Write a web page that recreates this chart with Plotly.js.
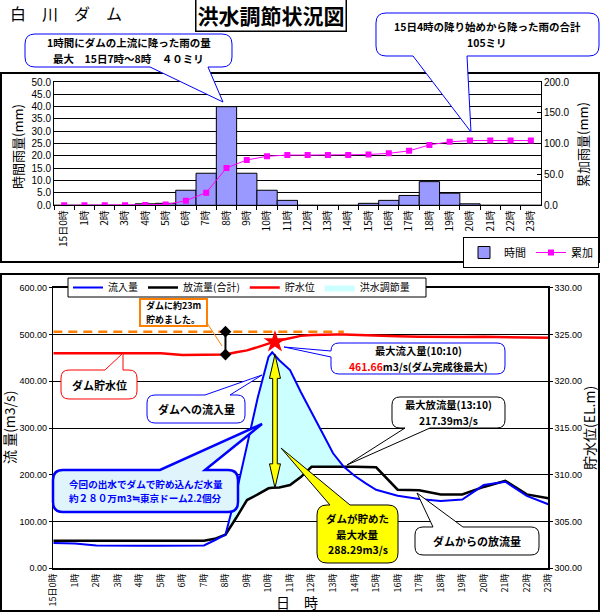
<!DOCTYPE html>
<html>
<head>
<meta charset="utf-8">
<script src="https://cdn.plot.ly/plotly-3.0.1.min.js"></script>
<style>html,body{margin:0;padding:0;background:#fff;}#chart{width:602px;height:612px;}</style>
</head>
<body>
<div id="chart"></div>
<script>
// ---------- data ----------
const hourLabels = ['15日0時','1時','2時','3時','4時','5時','6時','7時','8時','9時','10時','11時',
  '12時','13時','14時','15時','16時','17時','18時','19時','20時','21時','22時','23時'];
const rainHourly = [0,0,0,0,0.6,0.8,6.1,13,40,13,6.1,2,0,0,0,0.8,2,4,9.6,4.9,0.6,0,0,0];
const rainCumulative = [0,0,0,0,0.5,1.2,7.5,20.5,60.5,73.5,79.5,81.5,81.5,81.5,81.5,82.3,84.3,88.3,98,103,105,105,105,105];

const timeH = [0,1,2,3,4,5,6,7,7.5,8,8.5,9,9.5,10,10.17,10.5,11,11.5,12,12.5,13,13.17,13.5,14,14.5,15,16,17,18,19,20,21,22,23];
const inflow = [54,53,49,48,48,48,48,49,60,72,160,265,365,452,461.66,445,424,377,332,290,246,236,217,198,182,168,155,148,144,147,178,185,155,137];
const outflow = [59,59,59,59,59,59,59,59,63,72,108,146,158,171,172,173,178,195,217,217.39,217.39,217.39,217,217,216,216,168,167,158,158,174,187,158,150];
const waterLevel = [323.0,323.0,323.0,323.0,323.0,323.0,322.8,322.8,322.8,322.85,323.1,323.3,323.65,324.05,324.15,324.35,324.6,324.85,324.95,325.0,325.0,325.0,325.0,324.95,324.9,324.87,324.8,324.75,324.7,324.72,324.75,324.7,324.7,324.65];
const dashedLevelX = [0,13.5];
const dashedLevelY = [325.3,325.3];
const storedMarkX = [8,8];
const storedMarkY = [322.85,325.3];
const peakTime = [10.3];
const peakLevel = [324.2];
const regStart = 9, regEnd = 22; // indices of flood-regulation range in timeH

// ---------- geometry helpers ----------
const W=602, H=612;
const FONT="'Noto Sans CJK JP','Noto Sans',sans-serif";
const NUMFONT="'Liberation Sans',Arial,sans-serif";
function P(x,y){return (x/W).toFixed(5)+','+(1-y/H).toFixed(5);}
function bubble(x0,y0,x1,y1,r,edge,b1,b2,tx,ty){
  let d='M'+P(x0+r,y0);
  if(edge==='top') d+=' L'+P(b1,y0)+' L'+P(tx,ty)+' L'+P(b2,y0);
  d+=' L'+P(x1-r,y0)+' Q'+P(x1,y0)+' '+P(x1,y0+r);
  if(edge==='right') d+=' L'+P(x1,b1)+' L'+P(tx,ty)+' L'+P(x1,b2);
  d+=' L'+P(x1,y1-r)+' Q'+P(x1,y1)+' '+P(x1-r,y1);
  if(edge==='bottom') d+=' L'+P(b2,y1)+' L'+P(tx,ty)+' L'+P(b1,y1);
  d+=' L'+P(x0+r,y1)+' Q'+P(x0,y1)+' '+P(x0,y1-r);
  if(edge==='left') d+=' L'+P(x0,b2)+' L'+P(tx,ty)+' L'+P(x0,b1);
  d+=' L'+P(x0,y0+r)+' Q'+P(x0,y0)+' '+P(x0+r,y0)+' Z';
  return d;
}
function pathShape(d,line,lw,fill){
  return {type:'path',xref:'paper',yref:'paper',path:d,line:{color:line,width:lw},fillcolor:fill||'rgba(0,0,0,0)',layer:'above'};
}
function rectShape(x0,y0,x1,y1,line,lw,fill){
  return {type:'rect',xref:'paper',yref:'paper',x0:x0/W,x1:x1/W,y0:1-y1/H,y1:1-y0/H,line:{color:line,width:lw},fillcolor:fill||'rgba(0,0,0,0)',layer:'above'};
}
function txt(cx,cy,text,size,color,extra){
  return Object.assign({xref:'paper',yref:'paper',x:cx/W,y:1-cy/H,xanchor:'center',yanchor:'middle',
    showarrow:false,text:text,font:{family:FONT,size:size,color:color||'#000'}},extra||{});
}
// multi-line text as separate single-line annotations (avoids overlapping line boxes)
function multi(cx,cy,lines,size,color){
  const step = size*1.47, n=lines.length;
  return lines.map((t,i)=>txt(cx, cy+(i-(n-1)/2)*step, '<b>'+t+'</b>', size, color));
}

// plot-area domains (pixels)
const topPA = {l:54,r:541,t:82,b:205.3};
const botPA = {l:53.3,r:548.3,t:287.7,b:568.3};
const x2Range=[0,23], y3Range=[0,600];
const px2 = h => botPA.l + (h-x2Range[0])/(x2Range[1]-x2Range[0])*(botPA.r-botPA.l);
const py3 = v => botPA.b - (v-y3Range[0])/(y3Range[1]-y3Range[0])*(botPA.b-botPA.t);

// ---------- traces ----------
const traces = [
  {type:'bar',x:hourLabels,y:rainHourly,name:'時間',xaxis:'x',yaxis:'y',legend:'legend',
   marker:{color:'#9999ff',line:{color:'#000',width:1}},hoverinfo:'skip'},
  {type:'scatter',mode:'lines+markers',x:hourLabels,y:rainCumulative,name:'累加',xaxis:'x',yaxis:'y2',legend:'legend',
   line:{color:'#ff00ff',width:1},marker:{symbol:'square',size:6,color:'#ff00ff'}},
  {type:'scatter',mode:'lines',x:timeH.slice(regStart,regEnd+1),y:outflow.slice(regStart,regEnd+1),
   xaxis:'x2',yaxis:'y3',line:{width:0,color:'rgba(0,0,0,0)'},showlegend:false,hoverinfo:'skip'},
  {type:'scatter',mode:'lines',x:timeH.slice(regStart,regEnd+1),y:inflow.slice(regStart,regEnd+1),
   xaxis:'x2',yaxis:'y3',fill:'tonexty',fillcolor:'#ccffff',line:{width:0,color:'#99ccff'},
   name:'洪水調節量',legend:'legend2',legendrank:4},
  {type:'scatter',mode:'lines',x:timeH,y:outflow,xaxis:'x2',yaxis:'y3',name:'放流量(合計)',legend:'legend2',legendrank:2,
   line:{color:'#000',width:2.5}},
  {type:'scatter',mode:'lines',x:timeH,y:inflow,xaxis:'x2',yaxis:'y3',name:'流入量',legend:'legend2',legendrank:1,
   line:{color:'#0000ff',width:2}},
  {type:'scatter',mode:'lines',x:timeH,y:waterLevel,xaxis:'x2',yaxis:'y4',name:'貯水位',legend:'legend2',legendrank:3,
   line:{color:'#ff0000',width:2.5}},
  {type:'scatter',mode:'lines',x:dashedLevelX,y:dashedLevelY,xaxis:'x2',yaxis:'y4',showlegend:false,
   line:{color:'#ff8000',width:2.5,dash:'9px,6px'}},
  {type:'scatter',mode:'lines+markers',x:storedMarkX,y:storedMarkY,xaxis:'x2',yaxis:'y4',showlegend:false,
   line:{color:'#000',width:2},marker:{symbol:'diamond',size:9,color:'#000'}},
  {type:'scatter',mode:'markers',x:peakTime,y:peakLevel,xaxis:'x2',yaxis:'y4',showlegend:false,
   marker:{symbol:'star',size:17,color:'#ff0000'}}
];

// ---------- yellow double arrow (from peak inflow down to outflow at that time) ----------
const pkIdx = inflow.indexOf(Math.max(...inflow));
const ax = px2(10.3), aTop = py3(inflow[pkIdx])+2, aBot = py3(outflow[pkIdx]);
const sw=2.3, hw=5.5, hl=24;
const arrowPath = 'M'+P(ax,aTop)+' L'+P(ax+hw,aTop+hl)+' L'+P(ax+sw,aTop+hl)+' L'+P(ax+sw,aBot-hl)+' L'+P(ax+hw,aBot-hl)+
  ' L'+P(ax,aBot)+' L'+P(ax-hw,aBot-hl)+' L'+P(ax-sw,aBot-hl)+' L'+P(ax-sw,aTop+hl)+' L'+P(ax-hw,aTop+hl)+' Z';

const shapes = [
  rectShape(1,73,599,262,'#000',2),
  rectShape(1,274,599,611,'#000',2),
  rectShape(68,278,426,297,'#000',1,'#fff'),   // frame of the lower legend
  // top callouts
  pathShape(bubble(25,34,232,67,10,'bottom',150,208,223,102),'#0000ff',1,'#fff'),
  pathShape(bubble(376,13,599,56,10,'bottom',413,467,471,132),'#0000ff',1,'#fff'),
  // bottom callouts
  {type:'line',xref:'paper',yref:'paper',x0:207/W,y0:1-323/H,x1:222/W,y1:1-346/H,line:{color:'#ff8000',width:1},layer:'above'},
  rectShape(140,299,207,326,'#ff8000',2,'#fff'),
  pathShape(bubble(61,370,137,399,8,'top',105,123,123,353),'#ff0000',1,'#fff'),
  pathShape(bubble(147,395,245,423,8,'top',205,230,262,375),'#0000ff',1,'#fff'),
  pathShape(bubble(331,343,505,374,8,'left',351,357,284,347),'#0000ff',1,'#fff'),
  pathShape(bubble(392,397,505,428,8,'bottom',405,430,347,465),'#000',1,'#fff'),
  pathShape(bubble(415,527,539,555,8,'top',433,463,417,493),'#000',1,'#fff'),
  pathShape(bubble(53,470,238,512,10,'top',160,205,262,424),'#0000ff',2.5,'#dff5fb'),
  pathShape(arrowPath,'#000',1,'#ffff00'),
  pathShape(bubble(317,505,398,563,10,'top',330,350,281,448),'#000',1,'#ffff00')
];

const annotations = [
  txt(8,13,'白　川　ダ　ム',16,'#000',{xanchor:'left'}),
  txt(271,14,'<b>洪水調節状況図</b>',21,'#000',{bordercolor:'#000',borderwidth:1.5,borderpad:1,bgcolor:'#fff'}),
  ...multi(128.5,50.5,['1時間にダムの上流に降った雨の量','最大　15日7時～8時　４０ミリ'],10.5),
  ...multi(487.5,34.5,['15日4時の降り始めから降った雨の合計','105ミリ'],10.5),
  txt(17,147,'時間雨量(mm)',13,'#000',{textangle:-90}),
  txt(582,145,'累加雨量(mm)',13,'#000',{textangle:-90}),
  txt(9,428,'流 量(m3/s)',14,'#000',{textangle:-90}),
  txt(589,428,'貯水位(EL.m)',14,'#000',{textangle:-90}),
  txt(297,602,'日　時',14),
  ...multi(173.5,312.5,['ダムに約23m','貯めました。'],9),
  txt(99,384.5,'<b>ダム貯水位</b>',11),
  txt(196,409,'<b>ダムへの流入量</b>',11),
  ...multi(418,358.5,['最大流入量(10:10)','<span style="color:#ff0000">461.66</span>m3/s(ダム完成後最大)'],10.3),
  ...multi(448.5,412.5,['最大放流量(13:10)','217.39m3/s'],10.3),
  txt(477,541,'<b>ダムからの放流量</b>',11),
  ...multi(357.5,534,['ダムが貯めた','最大水量','288.29m3/s'],10.5),
  ...multi(145.5,491,['今回の出水でダムで貯め込んだ水量','約２８０万m3≒東京ドーム2.2個分'],9.6,'#0000ff')
];

const layout = {
  width:W,height:H,margin:{l:0,r:0,t:0,b:0},paper_bgcolor:'#fff',plot_bgcolor:'#fff',
  font:{family:FONT,size:10,color:'#000'},bargap:0,showlegend:true,
  xaxis:{domain:[topPA.l/W,topPA.r/W],anchor:'y',type:'category',range:[-0.5,23.5],tickson:'boundaries',
    ticks:'outside',ticklen:4,tickcolor:'#000',tickangle:-90,tickfont:{size:10},showline:true,linecolor:'#000',
    linewidth:1,mirror:true,showgrid:false,automargin:false},
  yaxis:{domain:[1-topPA.b/H,1-topPA.t/H],anchor:'x',range:[0,50],dtick:5,tickformat:'.1f',showgrid:true,
    gridcolor:'#000',gridwidth:1,showline:true,linecolor:'#000',zeroline:false,tickfont:{size:10,family:NUMFONT},ticks:'',automargin:false},
  yaxis2:{overlaying:'y',side:'right',anchor:'x',range:[0,200],dtick:50,tickformat:'.1f',showgrid:false,
    showline:true,linecolor:'#000',zeroline:false,ticks:'inside',ticklen:4,tickcolor:'#000',tickfont:{size:10,family:NUMFONT},automargin:false},
  xaxis2:{domain:[botPA.l/W,botPA.r/W],anchor:'y3',range:x2Range,tickvals:hourLabels.map((_,i)=>i),ticktext:hourLabels,
    tickangle:-90,tickfont:{size:9},showline:true,linecolor:'#000',linewidth:1.5,mirror:true,showgrid:false,zeroline:false,
    ticks:'',automargin:false},
  yaxis3:{domain:[1-botPA.b/H,1-botPA.t/H],anchor:'x2',range:y3Range,dtick:100,tickformat:'.2f',showgrid:true,
    gridcolor:'#000',gridwidth:1,showline:true,linecolor:'#000',linewidth:1.5,zeroline:false,tickfont:{size:9,family:NUMFONT},
    ticks:'outside',ticklen:3,tickcolor:'#000',automargin:false},
  yaxis4:{overlaying:'y3',side:'right',anchor:'x2',range:[300,330],dtick:5,tickformat:'.2f',showgrid:false,
    showline:true,linecolor:'#000',linewidth:1.5,zeroline:false,tickfont:{size:9,family:NUMFONT},ticks:'outside',ticklen:3,tickcolor:'#000',automargin:false},
  legend:{orientation:'h',x:463/W,y:1-237/H,xanchor:'left',yanchor:'top',bordercolor:'#000',borderwidth:1,
    bgcolor:'#fff',font:{size:11,family:FONT},itemwidth:30,traceorder:'normal'},
  legend2:{orientation:'h',x:68/W,y:1-287.5/H,xanchor:'left',yanchor:'middle',borderwidth:0,
    bgcolor:'rgba(0,0,0,0)',font:{size:10,family:FONT},itemwidth:30,traceorder:'normal'},
  shapes:shapes,annotations:annotations
};

Plotly.newPlot('chart',traces,layout,{displayModeBar:false,staticPlot:true});
</script>
</body>
</html>
